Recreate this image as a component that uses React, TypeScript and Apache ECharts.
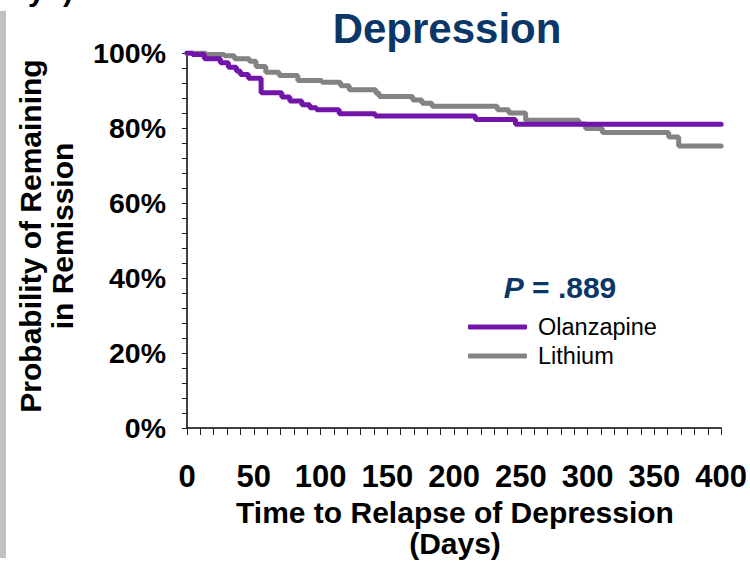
import React, { useEffect, useRef } from "react";
import * as echarts from "echarts";

// Kaplan-Meier step points: [day, % remaining in remission]
const olanzapineDays = [0, 4, 13, 25, 31, 37, 40, 46, 55.5, 71, 77, 86, 92, 97, 114, 141, 216, 246, 400];
const olanzapineValues = [100, 99.6, 98.5, 97.4, 96.2, 95.2, 94.3, 93.3, 89.4, 88.3, 87.2, 86.2, 85.4, 84.9, 83.8, 83.2, 82.3, 81.0, 81.0];

const lithiumDays = [0, 14, 28, 35.5, 46.7, 51.7, 59, 69, 83, 101, 115, 121.5, 141.5, 144, 169, 176, 183.5, 232.4, 241, 253.6, 293.5, 298.5, 311, 360.7, 368.2, 400];
const lithiumValues = [100, 99.6, 99.3, 98.5, 97.8, 96.4, 94.9, 94.0, 92.7, 92.2, 91.3, 90.2, 89.3, 88.4, 87.5, 86.6, 85.8, 84.9, 84.0, 82.1, 81.1, 79.9, 78.8, 77.6, 75.2, 75.2];

const seriesNames = ["Olanzapine", "Lithium"];
const xTicks = [0, 400, 50];
const yTicks = [0, 100, 20];

const FONT = "Arial, 'Liberation Sans', Helvetica, sans-serif";
const NAVY = "#0b3768";
const PURPLE = "#7214aa";
const GRAY = "#838383";

export default function App() {
  const ref = useRef<HTMLDivElement>(null);
  useEffect(() => {
    if (!ref.current) return;
    const chart = echarts.init(ref.current, undefined, { renderer: "svg" });
    const olz = olanzapineDays.map((d, i) => [d, olanzapineValues[i]]);
    const lit = lithiumDays.map((d, i) => [d, lithiumValues[i]]);
    chart.setOption({
      animation: false,
      backgroundColor: "#ffffff",
      grid: { left: 187, right: 27, top: 53, bottom: 133, containLabel: false },
      xAxis: {
        type: "value",
        min: xTicks[0],
        max: xTicks[1],
        interval: xTicks[2],
        splitLine: { show: false },
        axisLine: { show: true, lineStyle: { color: "#000", width: 1.5 } },
        axisTick: { show: true, length: 7, lineStyle: { color: "#222", width: 1 } },
        minorTick: { show: true, splitNumber: 5, length: 7, lineStyle: { color: "#222", width: 1 } },
        axisLabel: { margin: 33, fontSize: 31, fontWeight: "bold", color: "#000", fontFamily: FONT },
      },
      yAxis: {
        type: "value",
        min: yTicks[0],
        max: yTicks[1],
        interval: yTicks[2],
        splitLine: { show: false },
        axisLine: { show: true, lineStyle: { color: "#000", width: 1.5 } },
        axisTick: { show: true, length: 5, lineStyle: { color: "#222", width: 1 } },
        minorTick: { show: true, splitNumber: 5, length: 5, lineStyle: { color: "#222", width: 1 } },
        axisLabel: { margin: 21, fontSize: 28.5, fontWeight: "bold", color: "#000", fontFamily: FONT, formatter: "{value}%" },
      },
      legend: {
        data: seriesNames,
        orient: "vertical",
        left: 468,
        top: 314,
        itemWidth: 59,
        itemHeight: 5,
        itemGap: 3,
        icon: "roundRect",
        padding: 0,
        textStyle: { fontSize: 23.5, lineHeight: 26, color: "#000", fontFamily: FONT, padding: [0, 0, 0, 6] },
      },
      series: [
        {
          name: seriesNames[0],
          type: "line",
          step: "end",
          data: olz,
          symbol: "none",
          color: PURPLE,
          lineStyle: { color: PURPLE, width: 5, cap: "round" },
          z: 3,
        },
        {
          name: seriesNames[1],
          type: "line",
          step: "end",
          data: lit,
          symbol: "none",
          color: GRAY,
          lineStyle: { color: GRAY, width: 5, cap: "round" },
          z: 2,
        },
      ],
      graphic: [
        { type: "rect", shape: { x: 0, y: 11, width: 6, height: 547 }, style: { fill: "#c0c0c0" } },
        { type: "text", x: 28, y: 5, style: { text: "y", fontSize: 30, fontWeight: "bold", fill: "#000", fontFamily: FONT, verticalAlign: "bottom" } },
        { type: "text", x: 63, y: 5, style: { text: ")", fontSize: 30, fontWeight: "bold", fill: "#000", fontFamily: FONT, verticalAlign: "bottom" } },
        {
          type: "text",
          x: 447,
          y: 28,
          style: { text: "Depression", fontSize: 42, fontWeight: "bold", fill: NAVY, fontFamily: FONT, align: "center", verticalAlign: "middle" },
        },
        {
          type: "text",
          x: 46,
          y: 236,
          rotation: Math.PI / 2,
          style: {
            text: "Probability of Remaining\nin Remission",
            fontSize: 30,
            lineHeight: 32,
            fontWeight: "bold",
            fill: "#000",
            fontFamily: FONT,
            align: "center",
            verticalAlign: "middle",
          },
        },
        {
          type: "text",
          x: 455,
          y: 528,
          style: {
            text: "Time to Relapse of Depression\n(Days)",
            fontSize: 30,
            lineHeight: 31,
            fontWeight: "bold",
            fill: "#000",
            fontFamily: FONT,
            align: "center",
            verticalAlign: "middle",
          },
        },
        {
          type: "text",
          x: 560,
          y: 287,
          style: {
            text: "{i|P}{n| = .889}",
            align: "center",
            verticalAlign: "middle",
            rich: {
              i: { fontSize: 30, fontWeight: "bold", fontStyle: "italic", fill: NAVY, color: NAVY, fontFamily: FONT },
              n: { fontSize: 30, fontWeight: "bold", fill: NAVY, color: NAVY, fontFamily: FONT },
            },
          },
        },
      ],
    });
    return () => chart.dispose();
  }, []);
  return (
    <div
      ref={ref}
      style={{ position: "fixed", left: 0, top: 0, width: 750, height: 561, background: "#fff" }}
    />
  );
}
